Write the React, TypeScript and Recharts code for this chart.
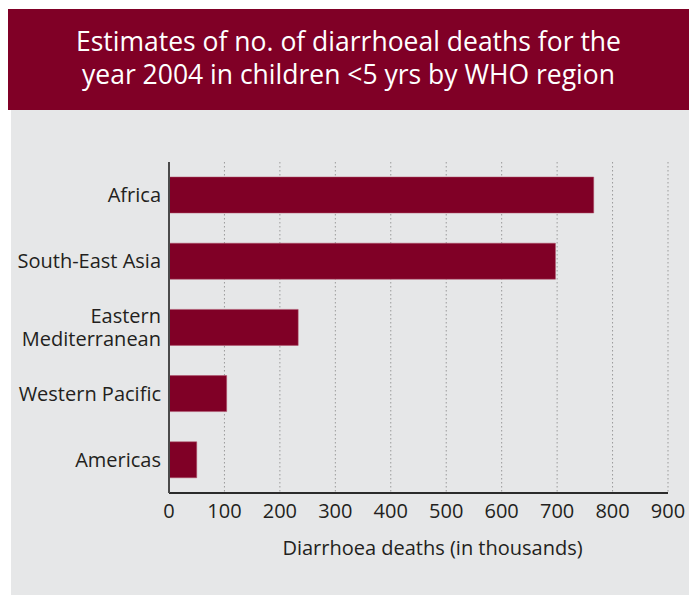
import React from 'react'
import { BarChart, Bar, XAxis, YAxis, CartesianGrid } from 'recharts'

const regions = ['Africa', 'South-East Asia', 'Eastern Mediterranean', 'Western Pacific', 'Americas']
const deaths = [766, 697, 233, 104, 50]
const xTicks = [0, 100, 200, 300, 400, 500, 600, 700, 800, 900]

const data = regions.map((name, i) => ({ name, value: deaths[i] }))

const MAROON = '#800026'
const FONT = '"Open Sans", sans-serif'

const RegionTick = ({ x, y, payload }: any) => {
    const label: string = payload.value
    const lines = label.length > 16 ? label.split(' ') : [label]
    const lh = 23
    const start = -((lines.length - 1) * lh) / 2
    return (
        <text x={x} y={y} textAnchor="end" fill="#231f20" fontSize={20} fontFamily={FONT}>
            {lines.map((l, i) => (
                <tspan key={i} x={x} dy={i === 0 ? start + 7 : lh}>
                    {l}
                </tspan>
            ))}
        </text>
    )
}

export default function App() {
    return (
        <div style={{ position: 'fixed', left: 0, top: 0, width: 689, height: 595, background: '#fff', overflow: 'hidden' }}>
            <div
                style={{
                    position: 'absolute',
                    left: 8,
                    top: 9,
                    width: 681,
                    height: 97,
                    paddingBottom: 4,
                    background: MAROON,
                    color: '#fff',
                    fontFamily: FONT,
                    fontSize: 26.5,
                    lineHeight: '33px',
                    textAlign: 'center',
                    display: 'flex',
                    flexDirection: 'column',
                    justifyContent: 'center',
                }}
            >
                <div>Estimates of no. of diarrhoeal deaths for the</div>
                <div>year 2004 in children &lt;5 yrs by WHO region</div>
            </div>
            <div style={{ position: 'absolute', left: 11, top: 110, width: 678, height: 485, background: '#e6e7e8' }} />
            <div style={{ position: 'absolute', left: 0, top: 0 }}>
                <BarChart width={689} height={595} data={data} layout="vertical" margin={{ top: 162, right: 21, bottom: 0, left: 0 }}>
                    <CartesianGrid horizontal={false} stroke="#9a9a9a" strokeDasharray="1.5 2.5" />
                    <XAxis
                        type="number"
                        domain={[0, 900]}
                        ticks={xTicks}
                        interval={0}
                        height={102}
                        axisLine={{ stroke: '#2b2b2b', strokeWidth: 2 }}
                        tickLine={false}
                        tickMargin={5}
                        tick={{ fill: '#231f20', fontSize: 20, fontFamily: FONT }}
                        label={{
                            value: 'Diarrhoea deaths (in thousands)',
                            position: 'insideTop',
                            offset: 48,
                            dx: 14,
                            fill: '#231f20',
                            fontSize: 20,
                            fontFamily: FONT,
                        }}
                    />
                    <YAxis
                        type="category"
                        dataKey="name"
                        width={169}
                        axisLine={{ stroke: '#4a4a4a', strokeWidth: 2 }}
                        tickLine={false}
                        tick={<RegionTick />}
                    />
                    <Bar dataKey="value" fill={MAROON} stroke="#b0506a" strokeOpacity={0.5} strokeWidth={1} barSize={36} isAnimationActive={false} />
                </BarChart>
            </div>
        </div>
    )
}
